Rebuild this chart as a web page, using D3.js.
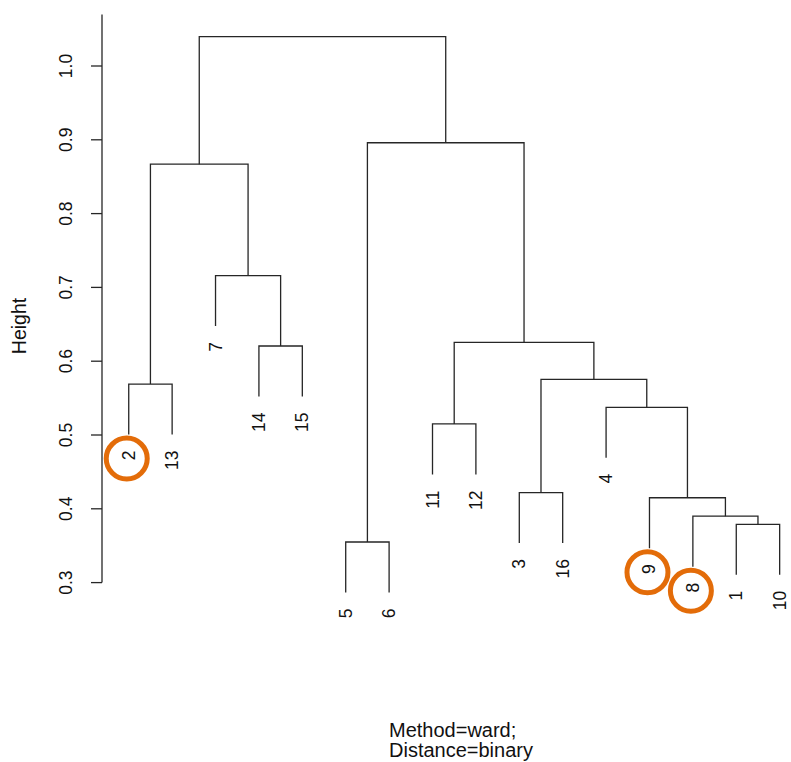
<!DOCTYPE html>
<html>
<head>
<meta charset="utf-8">
<script src="https://cdn.jsdelivr.net/npm/d3@7"></script>
<style>
  html, body { margin: 0; padding: 0; background: #fff; }
  svg { display: block; }
  text { font-family: "Liberation Sans", Arial, sans-serif; fill: #111; }
</style>
</head>
<body>
<svg id="chart" width="791" height="762"></svg>
<script>
// ---- Data ----
// leaf order as drawn left to right
const leafOrder = ["2","13","7","14","15","5","6","11","12","3","16","4","9","8","1","10"];
// merge steps (hclust style): "sN" refers to the cluster formed at step N
const mergeA = ["5","1","8","9","3","11","4","2","s5","14","s6","7","s8","s1","s13"];
const mergeB = ["6","10","s2","s3","16","12","s4","13","s7","15","s9","s10","s12","s11","s14"];
const mergeHeight = [0.355,0.379,0.390,0.415,0.422,0.515,0.5375,0.569,0.5755,0.6206,0.6256,0.716,0.867,0.896,1.0397];
// y axis ticks
const yTicks = [0.3,0.4,0.5,0.6,0.7,0.8,0.9,1.0];
// highlighted leaves
const circledLeaves = ["2","9","8"];
const yLabel = "Height";
const xLabelLines = ["Method=ward;","Distance=binary"];

// ---- Layout ----
const svg = d3.select("#chart");
const hMin = d3.min(mergeHeight), hMax = d3.max(mergeHeight);
const hang = 0.1 * (hMax - hMin);

const x = d3.scaleLinear().domain([0.4, 16.6]).range([102.7, 805.7]);
const y = d3.scaleLinear().domain([0.3, 1.0]).range([582.6, 66]);
const yTop = hMax + 0.04 * (hMax - (hMin - hang));

// node positions
const nodes = {};
leafOrder.forEach((l, i) => { nodes[l] = { x: x(i + 1), h: null, leaf: true }; });
mergeA.forEach((a, i) => {
  const A = nodes[a], B = nodes[mergeB[i]];
  const h = mergeHeight[i];
  nodes["s" + (i + 1)] = { x: (A.x + B.x) / 2, h: h, leaf: false, a: a, b: mergeB[i] };
});

const g = svg.append("g");
const stroke = "#262626";

// draw merges
mergeA.forEach((a, i) => {
  const n = nodes["s" + (i + 1)];
  const A = nodes[a], B = nodes[mergeB[i]];
  const yh = y(n.h);
  const yA = A.leaf ? y(n.h - hang) : y(A.h);
  const yB = B.leaf ? y(n.h - hang) : y(B.h);
  if (A.leaf) A.end = n.h - hang;
  if (B.leaf) B.end = n.h - hang;
  g.append("path")
    .attr("d", `M${A.x},${yA}V${yh}H${B.x}V${yB}`)
    .attr("fill", "none").attr("stroke", stroke).attr("stroke-width", 1.3);
});

// leaf labels
const labelGap = 16;
leafOrder.forEach(l => {
  const n = nodes[l];
  const ly = y(n.end) + labelGap;
  n.labelY = ly;
  g.append("text")
    .attr("transform", `translate(${n.x},${ly}) rotate(-90)`)
    .attr("text-anchor", "end")
    .attr("dominant-baseline", "central")
    .style("font-size", "17.5px")
    .text(l);
});

// y axis
const axisX = 102;
g.append("line").attr("x1", axisX).attr("x2", axisX)
  .attr("y1", y(0.3)).attr("y2", y(yTop))
  .attr("stroke", stroke).attr("stroke-width", 1.3);
yTicks.forEach(t => {
  g.append("line").attr("x1", axisX).attr("x2", axisX - 11)
    .attr("y1", y(t)).attr("y2", y(t))
    .attr("stroke", stroke).attr("stroke-width", 1.3);
  g.append("text")
    .attr("transform", `translate(66,${y(t)}) rotate(-90)`)
    .attr("text-anchor", "middle")
    .attr("dominant-baseline", "central")
    .style("font-size", "17.5px")
    .text(t.toFixed(1));
});

// y label
g.append("text")
  .attr("transform", `translate(19,326) rotate(-90)`)
  .attr("text-anchor", "middle")
  .attr("dominant-baseline", "central")
  .style("font-size", "19.5px")
  .text(yLabel);

// x label
xLabelLines.forEach((s, i) => {
  g.append("text")
    .attr("x", 389).attr("y", 737 + i * 20)
    .attr("text-anchor", "start")
    .style("font-size", "20px")
    .text(s);
});

// orange circles around highlighted labels
circledLeaves.forEach(l => {
  const n = nodes[l];
  g.append("circle")
    .attr("cx", n.x - 2)
    .attr("cy", n.labelY + 8)
    .attr("r", 20.5)
    .attr("fill", "none")
    .attr("stroke", "#E36C09")
    .attr("stroke-width", 5);
});
</script>
</body>
</html>
